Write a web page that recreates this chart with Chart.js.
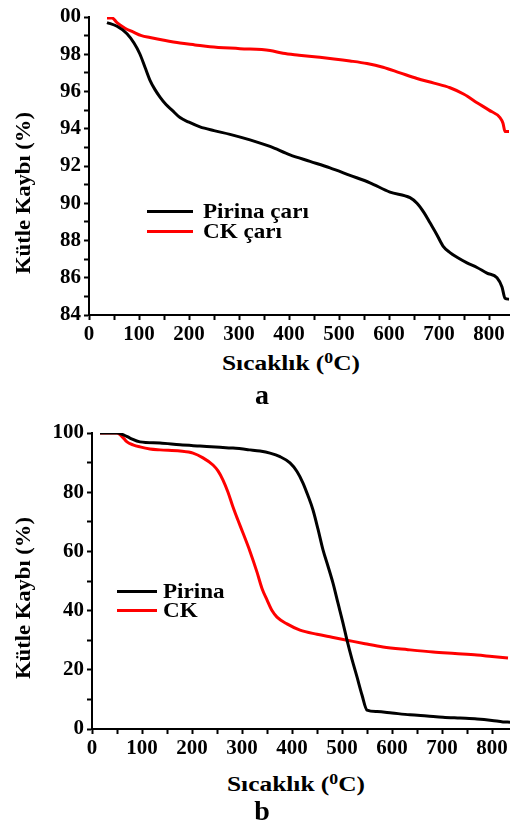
<!DOCTYPE html>
<html>
<head>
<meta charset="utf-8">
<script src="https://cdn.jsdelivr.net/npm/chart.js@4/dist/chart.umd.min.js"></script>
<style>
  html, body { margin:0; padding:0; background:#fff; }
  body { width:510px; height:828px; position:relative; overflow:hidden; font-family:"Liberation Serif", "Times New Roman", Times, serif; font-weight:bold; color:#000; }
  .cv { position:absolute; left:0; }
  .t { position:absolute; white-space:nowrap; line-height:1; }
  .lg { position:absolute; height:3px; }
</style>
</head>
<body>
<canvas id="ca" class="cv" width="510" height="345" style="top:0;width:510px;height:345px"></canvas>
<canvas id="cb" class="cv" width="510" height="359" style="top:400px;width:510px;height:359px"></canvas>

<div id="yta" class="t" style="font-size:20px;left:23px;top:193px;transform:translate(-50%,-50%) rotate(-90deg) scaleX(1.13)">Kütle Kaybı (%)</div>
<div id="xta" class="t" style="font-size:20px;left:291px;top:362px;transform:translate(-50%,-50%) scaleX(1.27)">Sıcaklık (<sup style="font-size:14px;vertical-align:7px">0</sup>C)</div>
<div class="t" style="font-size:28px;left:262px;top:395px;transform:translate(-50%,-50%)">a</div>

<div id="ytb" class="t" style="font-size:20px;left:23px;top:598px;transform:translate(-50%,-50%) rotate(-90deg) scaleX(1.13)">Kütle Kaybı (%)</div>
<div id="xtb" class="t" style="font-size:20px;left:296px;top:783px;transform:translate(-50%,-50%) scaleX(1.27)">Sıcaklık (<sup style="font-size:14px;vertical-align:7px">0</sup>C)</div>
<div class="t" style="font-size:28px;left:262px;top:811px;transform:translate(-50%,-50%)">b</div>

<div id="legA"></div>
<div id="legB"></div>

<script>
// ---- Chart a data ----
const namesA = ["Pirina çarı", "CK çarı"];
const tempA_pirina = [36, 56, 76, 90, 102, 112, 122, 132, 142, 154, 166, 182, 200, 222, 250, 282, 322, 362, 402, 442, 482, 522, 562, 602, 642, 656, 670, 682, 696, 708, 722, 736, 756, 776, 796, 816, 826, 832, 840];
const massA_pirina = [99.7, 99.5, 99.1, 98.6, 98.0, 97.3, 96.6, 96.1, 95.7, 95.3, 95.0, 94.6, 94.35, 94.1, 93.9, 93.7, 93.4, 93.05, 92.6, 92.25, 91.9, 91.5, 91.1, 90.6, 90.3, 90.0, 89.5, 88.95, 88.3, 87.7, 87.35, 87.1, 86.8, 86.55, 86.25, 86.0, 85.5, 84.9, 84.85];
const tempA_ck = [36, 46, 56, 72, 88, 105, 122, 150, 182, 212, 242, 302, 362, 388, 420, 456, 490, 522, 556, 588, 622, 656, 690, 722, 750, 776, 800, 822, 828, 832, 840];
const massA_ck = [99.95, 99.95, 99.7, 99.4, 99.2, 99.0, 98.9, 98.75, 98.6, 98.5, 98.4, 98.3, 98.2, 98.05, 97.95, 97.85, 97.75, 97.64, 97.5, 97.3, 97.0, 96.7, 96.45, 96.2, 95.85, 95.4, 95.0, 94.6, 94.3, 93.85, 93.85];

// ---- Chart b data ----
const namesB = ["Pirina", "CK"];
const tempB_pirina = [16, 50, 64, 76, 96, 136, 176, 216, 256, 282, 316, 336, 356, 376, 396, 410, 422, 432, 442, 452, 462, 472, 482, 492, 502, 510, 520, 530, 540, 550, 570, 600, 636, 670, 702, 736, 770, 800, 822, 836];
const massB_pirina = [100, 100, 99.3, 98.3, 97.0, 96.6, 96.0, 95.6, 95.2, 94.9, 94.3, 93.9, 93.2, 92.0, 89.9, 87.0, 83.1, 78.8, 74.0, 67.5, 60.5, 55.0, 49.3, 42.5, 35.8, 30.0, 23.5, 17.6, 11.5, 6.4, 5.9, 5.4, 4.8, 4.4, 4.0, 3.7, 3.4, 2.9, 2.4, 2.3];
const tempB_ck = [16, 50, 60, 70, 82, 96, 116, 136, 176, 202, 222, 242, 252, 262, 272, 282, 292, 302, 316, 330, 340, 350, 360, 370, 390, 416, 450, 480, 510, 546, 582, 632, 682, 726, 770, 800, 832];
const massB_ck = [100, 100, 98.8, 97.0, 96.0, 95.3, 94.6, 94.3, 93.9, 93.2, 91.6, 89.2, 87.2, 84.1, 80.0, 75.0, 70.5, 66.2, 60.0, 53.0, 47.5, 43.6, 40.0, 37.8, 35.5, 33.4, 32.0, 31.0, 30.0, 28.8, 27.7, 26.8, 26.0, 25.5, 25.0, 24.5, 24.0];

const colors = ["#000000", "#ff0000"];

function pts(xs, ys) { return xs.map((x, i) => ({ x: x, y: ys[i] })); }

const tickFont = { family: "'Liberation Serif', 'Times New Roman', Times, serif", size: 21, weight: "bold" };

function makeChart(id, datasets, yw, xmin, xmax, ymin, ymax, ystep, ylabelEvery, ylabelFn, padTop) {
  return new Chart(document.getElementById(id), {
    type: "line",
    data: { datasets: datasets.map((d, i) => ({
      label: d.label, data: d.data, borderColor: colors[i], backgroundColor: colors[i],
      borderWidth: 3, pointRadius: 0, cubicInterpolationMode: "monotone", fill: false
    })) },
    options: {
      responsive: false, animation: false, devicePixelRatio: 1,
      layout: { padding: { top: padTop, left: 0, right: 0, bottom: 0 } },
      plugins: { legend: { display: false }, tooltip: { enabled: false } },
      scales: {
        x: {
          type: "linear", min: xmin, max: xmax,
          afterFit: s => { s.height = 30; },
          border: { display: true, color: "#000", width: 2 },
          grid: { drawOnChartArea: false, drawTicks: true, tickLength: 5, tickColor: "#000", tickWidth: 2 },
          ticks: { stepSize: 50, includeBounds: false, autoSkip: false, maxRotation: 0, padding: 2, color: "#000", font: tickFont,
            callback: v => (v % 100 === 0 ? String(v) : "") }
        },
        y: {
          type: "linear", min: ymin, max: ymax,
          afterFit: s => { s.width = yw; },
          border: { display: true, color: "#000", width: 2 },
          grid: { drawOnChartArea: false, drawTicks: true, tickLength: 5, tickColor: "#000", tickWidth: 2 },
          ticks: { stepSize: ystep, includeBounds: false, autoSkip: false, padding: 3, color: "#000", font: tickFont,
            callback: v => (Math.round(v) % ylabelEvery === 0 ? ylabelFn(v) : "") }
        }
      }
    }
  });
}

makeChart("ca", [
  { label: namesA[0], data: pts(tempA_pirina, massA_pirina) },
  { label: namesA[1], data: pts(tempA_ck, massA_ck) }
], 89, 0, 842, 84, 100, 1, 2, v => (v === 100 ? "00" : String(v)), 17);

makeChart("cb", [
  { label: namesB[0], data: pts(tempB_pirina, massB_pirina) },
  { label: namesB[1], data: pts(tempB_ck, massB_ck) }
], 92, 0, 836, 0, 100, 10, 20, v => String(v), 33);

// HTML legends built from series names
function legend(el, names, x0, x1, ys, tx, fs, sx) {
  const host = document.getElementById(el);
  names.forEach((n, i) => {
    const ln = document.createElement("div");
    ln.className = "lg";
    ln.style.cssText = `left:${x0}px;width:${x1 - x0}px;top:${ys[i] - 1.5}px;background:${colors[i]}`;
    host.appendChild(ln);
    const tx_ = document.createElement("div");
    tx_.className = "t";
    tx_.textContent = n;
    tx_.style.cssText = `left:${tx}px;top:${ys[i]}px;font-size:${fs}px;transform-origin:0 50%;transform:translateY(-50%) scaleX(${sx})`;
    host.appendChild(tx_);
  });
}
legend("legA", namesA, 147, 193, [211, 231], 203, 22, 1.05);
legend("legB", namesB, 117, 157, [591, 610], 163, 21, 1.1);
</script>
</body>
</html>
